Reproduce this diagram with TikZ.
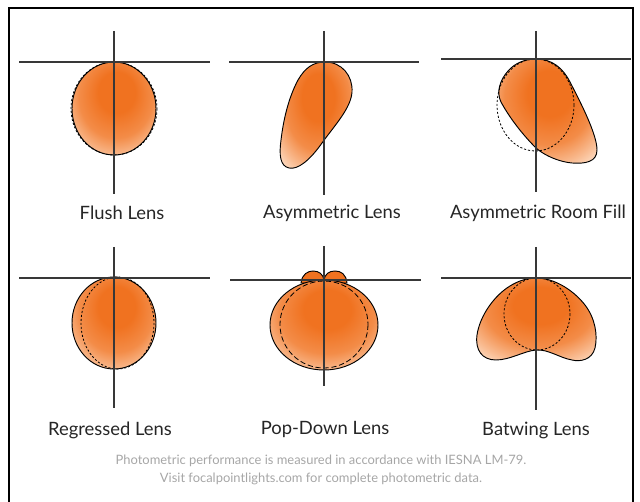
\documentclass[tikz,border=0pt]{standalone}
\usepackage{fontspec}
\setmainfont{Lato}
\usepackage{tikz}
\usetikzlibrary{positioning}

\definecolor{lensorange}{RGB}{240,114,32}
\definecolor{lenslight}{RGB}{254,232,214}
\pgfdeclareradialshading[lensorange,lenslight]{lensglow}{\pgfpoint{2bp}{11bp}}{%
  color(0bp)=(lensorange); color(11bp)=(lensorange);
  color(22bp)=(lensorange!78!lenslight); color(30bp)=(lensorange!38!lenslight);
  color(37bp)=(lenslight); color(50bp)=(lenslight)}

\begin{document}
\begin{tikzpicture}[
x=0.75pt, y=-0.75pt,
axis/.style={draw=black!78, line width=0.8pt},
lens/.style={draw=black, line width=0.7pt},
ghost/.style={draw=black, line width=0.6pt, dash pattern=on 1.6pt off 1.4pt},
longghost/.style={draw=black, line width=0.6pt, dash pattern=on 4pt off 2pt},
glow/.style={shading=lensglow},
caption/.style={font=\fontsize{13.8}{16}\selectfont, text=black!85},
note/.style={font=\fontsize{9.7}{12}\selectfont, text=black!35}]
    \useasboundingbox (0,0) rectangle (640,502);
    % Frame
    \draw[line width=1pt] (9,502) -- (9,8) -- (633,8) -- (633,502);

    % Flush lens
    \shade[glow] (114,108.5) ellipse [x radius=42, y radius=46.5];
    \draw[lens] (114,108.5) ellipse [x radius=42, y radius=46.5];
    \draw[ghost] (114,108.5) ellipse [x radius=43, y radius=46.5];
    \draw[axis] (114,31) -- (114,194);
    \draw[axis] (19,62) -- (210,62);

    % Asymmetric lens
    \draw[lens, glow] (325,62)
      .. controls (342,62) and (353,76) .. (352,92)
      .. controls (351,108) and (335,125) .. (322,143)
      .. controls (310,160) and (298,170) .. (289,168)
      .. controls (280,166) and (279,155) .. (281,140)
      .. controls (284,115) and (290,95) .. (298,80)
      .. controls (305,68) and (313,62) .. (325,62) -- cycle;
    \draw[axis] (324,31) -- (324,195);
    \draw[axis] (229,62) -- (419,62);

    % Asymmetric room fill
    \draw[lens, glow] (536,59)
      .. controls (552,59) and (563,68) .. (570,82)
      .. controls (582,105) and (597,135) .. (597,150)
      .. controls (597,162) and (585,164) .. (572,163)
      .. controls (560,162) and (545,156) .. (536,148)
      .. controls (520,132) and (508,115) .. (501,102)
      .. controls (496,92) and (500,80) .. (508,71)
      .. controls (515,63) and (525,59) .. (536,59) -- cycle;
    \draw[ghost] (535.5,105) ellipse [x radius=38.5, y radius=46];
    \draw[axis] (536,31) -- (536,192);
    \draw[axis] (441,59) -- (631,59);

    % Regressed lens
    \shade[glow] (114,323) ellipse [x radius=42, y radius=46];
    \draw[lens] (114,323) ellipse [x radius=42, y radius=46];
    \draw[ghost] (117.5,323) ellipse [x radius=36.5, y radius=46];
    \draw[axis] (114,247) -- (114,408);
    \draw[axis] (19,278) -- (210,278);

    % Pop-down lens
    \draw[lens, fill=lensorange] (301,283)
      .. controls (302,274) and (308,271) .. (313,271)
      .. controls (319,271) and (323,274) .. (324,280)
      .. controls (325,274) and (329,271) .. (335,271)
      .. controls (341,271) and (346,274) .. (347,283) -- cycle;
    \shade[glow] (324,325) ellipse [x radius=54, y radius=45];
    \draw[lens] (324,325) ellipse [x radius=54, y radius=45];
    \draw[longghost] (324,324.5) ellipse [x radius=44, y radius=43.5];
    \draw[axis] (324,246) -- (324,386);
    \draw[axis] (230,280) -- (421,280);

    % Batwing lens
    \draw[lens, glow] (536,278)
      .. controls (556,278) and (575,292) .. (585,305)
      .. controls (595,318) and (598,335) .. (595,348)
      .. controls (592,360) and (580,362) .. (572,360)
      .. controls (560,358) and (548,349) .. (536,350)
      .. controls (524,351) and (510,360) .. (496,360)
      .. controls (482,360) and (475,350) .. (477,335)
      .. controls (480,315) and (495,295) .. (510,286)
      .. controls (518,281) and (527,278) .. (536,278) -- cycle;
    \draw[ghost] (537,314) ellipse [x radius=33, y radius=36];
    \draw[axis] (536,247) -- (536,410);
    \draw[axis] (441,278) -- (631,278);

    % Captions
    \node[caption] (flush) at (122,213) {Flush Lens};
    \node[caption] (asym) at (332,213) {Asymmetric Lens};
    \node[caption] (roomfill) at (538,213) {Asymmetric Room Fill};
    \node[caption] (regressed) at (110,430) {Regressed Lens};
    \node[caption] (popdown) at (325,429) {Pop-Down Lens};
    \node[caption] (batwing) at (536,430) {Batwing Lens};

    % Footnote
    \node[note] (noteone) at (321,461) {Photometric performance is measured in accordance with IESNA LM-79.};
    \node[note] (notetwo) at (321,479) {Visit focalpointlights.com for complete photometric data.};
\end{tikzpicture}
\end{document}
